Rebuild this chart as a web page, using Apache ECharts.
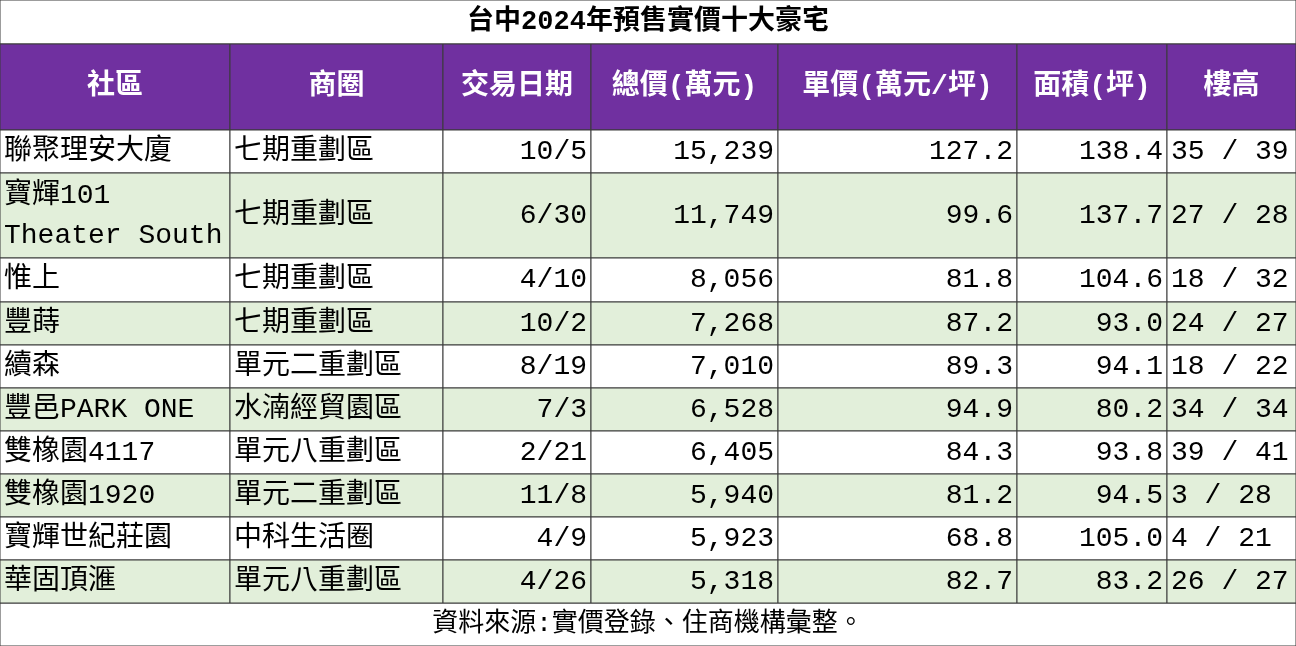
<!DOCTYPE html>
<html><head><meta charset="utf-8">
<script src="https://cdn.jsdelivr.net/npm/echarts@6/dist/echarts.min.js"></script>
<style>html,body{margin:0;background:#fff}#c{width:1296px;height:646px}</style>
</head><body><div id="c"></div>
<script>
var title = "台中2024年預售實價十大豪宅";
var source = "資料來源:實價登錄、住商機構彙整。";
var headers = ["社區", "商圈", "交易日期", "總價(萬元)", "單價(萬元/坪)", "面積(坪)", "樓高"];
var names = ["聯聚理安大廈", "寶輝101\nTheater South", "惟上", "豐蒔", "續森", "豐邑PARK ONE", "雙橡園4117", "雙橡園1920", "寶輝世紀莊園", "華固頂滙"];
var districts = ["七期重劃區", "七期重劃區", "七期重劃區", "七期重劃區", "單元二重劃區", "水湳經貿園區", "單元八重劃區", "單元二重劃區", "中科生活圈", "單元八重劃區"];
var dates = ["10/5", "6/30", "4/10", "10/2", "8/19", "7/3", "2/21", "11/8", "4/9", "4/26"];
var totals = [15239, 11749, 8056, 7268, 7010, 6528, 6405, 5940, 5923, 5318];
var unitPrices = [127.2, 99.6, 81.8, 87.2, 89.3, 94.9, 84.3, 81.2, 68.8, 82.7];
var areas = [138.4, 137.7, 104.6, 93.0, 94.1, 80.2, 93.8, 94.5, 105.0, 83.2];
var floors = ["35 / 39", "27 / 28", "18 / 32", "24 / 27", "18 / 22", "34 / 34", "39 / 41", "3 / 28", "4 / 21", "26 / 27"];

// layout
var colX = [0, 230, 443, 591, 778, 1017, 1167, 1296];
var rowY = [0, 44, 130, 173, 258, 302, 345, 388, 431, 474, 517, 560, 603, 646];
var aligns = ["left", "left", "right", "right", "right", "right", "left"];
var FONT = '"Liberation Mono", "Noto Sans CJK TC", monospace';

function fmt(n) { return n.toLocaleString("en-US"); }

var cells = [];
// title & footer
cells.push([0, 1296, rowY[0], rowY[1], title, "center", "#fff", "#000", 27, "bold"]);
cells.push([0, 1296, rowY[12], rowY[13], source, "center", "#fff", "#000", 26, "normal"]);
headers.forEach(function (h, c) {
  cells.push([colX[c], colX[c + 1], rowY[1], rowY[2], h, "center", "#7030A0", "#fff", 28, "bold"]);
});
names.forEach(function (n, r) {
  var vals = [n, districts[r], dates[r], fmt(totals[r]), unitPrices[r].toFixed(1), areas[r].toFixed(1), floors[r]];
  var fill = r % 2 ? "#E2EFDA" : "#fff";
  vals.forEach(function (v, c) {
    cells.push([colX[c], colX[c + 1], rowY[r + 2], rowY[r + 3], v, aligns[c], fill, "#000", 28, "normal"]);
  });
});

var chart = echarts.init(document.getElementById("c"));
chart.setOption({
  animation: false,
  grid: { left: 0, right: 0, top: 0, bottom: 0 },
  xAxis: { type: "value", min: 0, max: 1296, show: false },
  yAxis: { type: "value", min: 0, max: 646, inverse: true, show: false },
  series: [{
    type: "custom",
    data: cells,
    encode: { x: [0, 1], y: [2, 3] },
    renderItem: function (params, api) {
      var d = cells[params.dataIndex];
      var p0 = api.coord([d[0], d[2]]), p1 = api.coord([d[1], d[3]]);
      var w = p1[0] - p0[0], h = p1[1] - p0[1];
      var tx = d[5] === "left" ? p0[0] + 4 : d[5] === "right" ? p1[0] - 4 : p0[0] + w / 2;
      return {
        type: "group",
        children: [
          { type: "rect", shape: { x: p0[0], y: p0[1], width: w, height: h },
            style: { fill: d[6], stroke: "#3a3a3a", lineWidth: 1 } },
          { type: "text", style: { x: tx, y: p0[1] + h / 2, text: d[4], align: d[5], verticalAlign: "middle",
              fill: d[7], font: d[9] + " " + d[8] + "px " + FONT, lineHeight: 40 } }
        ]
      };
    }
  }]
});
</script></body></html>
